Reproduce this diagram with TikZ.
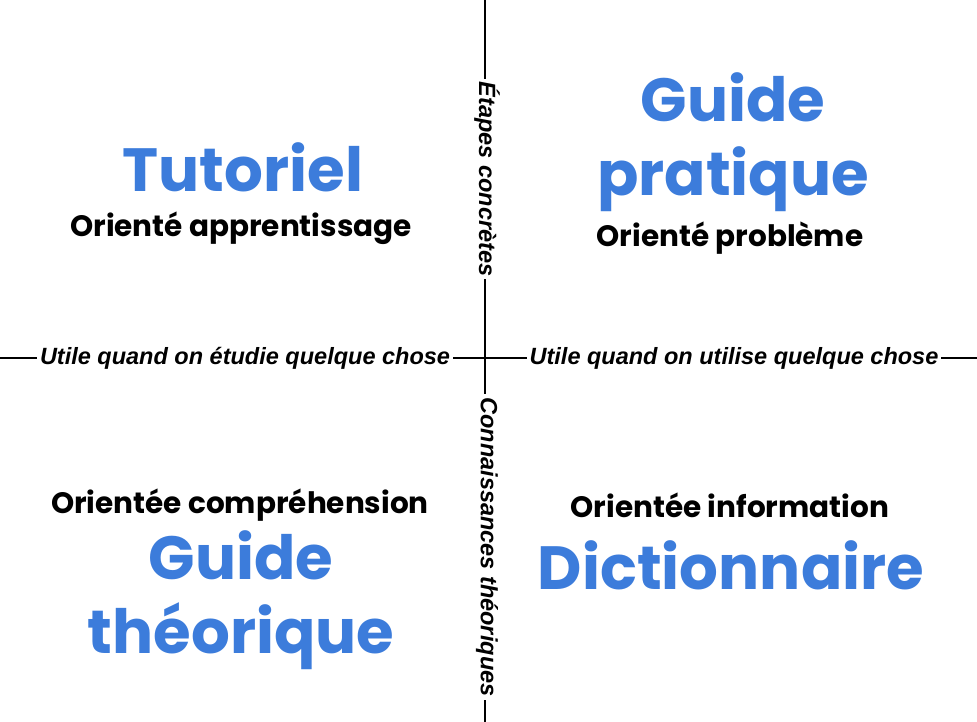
\documentclass[tikz,border=0pt]{standalone}
\usepackage{fontspec}
\setmainfont{Poppins}
\newfontfamily\axisfont{Liberation Sans}
\usetikzlibrary{positioning}
\definecolor{docblue}{HTML}{3C7CDB}
\tikzset{
  quadtitle/.style = {align=center, text=docblue, font=\fontsize{61}{74}\selectfont\bfseries, inner sep=0pt},
  quadsub/.style = {align=center, font=\fontsize{29.5}{34}\selectfont\bfseries, inner sep=0pt},
  axislabel/.style = {fill=white, font=\axisfont\fontsize{23.5}{26}\selectfont\bfseries\itshape, inner sep=3pt},
  axisline/.style = {line width=2.8pt, black}
}
\begin{document}
\begin{tikzpicture}[x=1pt, y=-1pt]
    \useasboundingbox (0,0) rectangle (977,722);
    % axes
    \coordinate (top) at (485,0);
    \coordinate (bottom) at (485,722);
    \coordinate (left) at (0,358);
    \coordinate (right) at (977,358);
    \draw[axisline] (top) -- (bottom);
    \draw[axisline] (left) -- (right);
    \node[axislabel] (study) at (245,358) {Utile quand on étudie quelque chose};
    \node[axislabel] (use) at (734,358) {Utile quand on utilise quelque chose};
    \node[axislabel, rotate=-90] (practical) at (487,179) {Étapes concrètes};
    \node[axislabel, rotate=-90] (theory) at (487,547) {Connaissances théoriques};
    % quadrants
    \node[quadtitle] (tutorial) at (243,167) {Tutoriel};
    \node[quadsub] (learning) at (241,228) {Orienté apprentissage};
    \node[quadtitle] (howto) at (733,142) {Guide\\pratique};
    \node[quadsub] (problem) at (730,238) {Orienté problème};
    \node[quadsub] (understanding) at (240,505) {Orientée compréhension};
    \node[quadtitle] (explanation) at (241,600) {Guide\\théorique};
    \node[quadsub] (information) at (730,505) {Orientée information};
    \node[quadtitle] (reference) at (731,565) {Dictionnaire};
\end{tikzpicture}
\end{document}
